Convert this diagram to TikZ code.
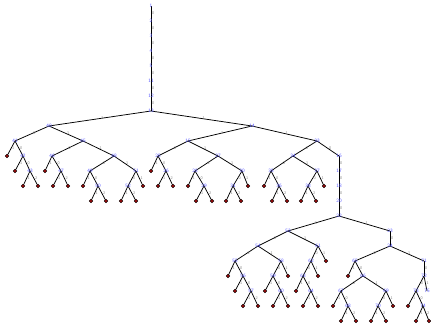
\documentclass[tikz,border=0pt]{standalone}
\usetikzlibrary{backgrounds}

\definecolor{labBlue}{RGB}{90,90,255}
\definecolor{leafRed}{RGB}{150,10,10}

\begin{document}
\begin{tikzpicture}[x=1pt, y=-1pt, >=latex,
    innerLab/.style={inner sep=0.3pt, text=labBlue, font=\sffamily\fontsize{5}{5}\selectfont},
    leafDot/.style={circle, draw=black, fill=leafRed, line width=0.4pt, inner sep=0pt, minimum size=3.8pt},
    edgeLine/.style={line width=0.75pt, black},
    weightLab/.style={midway, right, inner sep=0.8pt, text=gray, font=\sffamily\fontsize{4}{4}\selectfont}]
    \useasboundingbox (0,0) rectangle (431,324);

    % internal vertices
    \foreach \nm/\x/\y/\lab in {a1/151/6/1, a2/151/21/2, a3/151/36/3, a4/151/51/4, a5/151/66/5,
        a6/151/81/11, a7/151/96/12, a8/151/111/13,
        b1/49/126/40, b2/252/126/14,
        c1/15/141/41, c2/83/141/45, d1/23/156/42, e1/30/171/43, d2/52/156/46, e2/61/171/47,
        d3/114/156/48, e3/90/171/49, f1/98/186/50, e4/136/171/51, f2/128/186/52,
        c3/188/141/15, d4/158/156/25, e5/166/171/26, d5/218/156/27, e6/195/171/28, f3/204/186/29,
        e7/242/171/30, f4/233/186/31,
        c4/317/141/33, d6/293/156/34, e8/271/171/35, f5/279/186/36, e9/317/171/37, f6/308/186/38,
        g1/339/156/16, g2/339/171/17, g3/339/186/18, g4/339/201/20, g5/339/216/22,
        h1/288/231/53, i1/258/246/54, j1/235/261/55, k1/243/276/56, m1/251/291/57,
        j2/281/261/58, k2/273/276/59, m2/281/291/60,
        i2/318/246/61, j3/311/261/62, k3/303/276/63, m3/311/291/64,
        h2/390/231/23, n1/390/246/24, o1/355/261/65, p1/363/276/66, q1/341/291/67, r1/348/306/68,
        q2/386/291/69, r2/378/306/70,
        o2/424/261/71, p2/424/276/72, q3/416/291/73, r3/423/306/74, q4/427/291/75}
        \node (\nm) [innerLab] at (\x,\y) {\lab};

    % leaves
    \foreach \nm/\x/\y in {l1/7/156, l2/15/171, l3/23/186, l4/38/186, l5/45/171, l6/53/186, l7/68/186,
        l8/83/186, l9/91/201, l10/106/201, l11/143/186, l12/121/201, l13/136/201,
        l14/151/171, l15/158/186, l16/173/186, l17/188/186, l18/196/201, l19/212/201,
        l20/248/186, l21/226/201, l22/241/201,
        l23/264/186, l24/272/201, l25/287/201, l26/324/186, l27/301/201, l28/316/201,
        l29/228/276, l30/235/291, l31/243/306, l32/258/306,
        l33/288/276, l34/265/291, l35/273/306, l36/288/306,
        l37/326/261, l38/318/276, l39/296/291, l40/303/306, l41/318/306,
        l42/348/276, l43/333/306, l44/341/321, l45/356/321,
        l46/393/306, l47/371/321, l48/386/321,
        l49/408/306, l50/416/321, l51/429/321}
        \node (\nm) [leafDot] at (\x,\y) {};

    % edges with weights
    \begin{scope}[on background layer]
    \foreach \p/\c/\w in {a1/a2/0, a2/a3/0, a3/a4/0, a4/a5/0, a5/a6/0, a6/a7/0, a7/a8/0,
        a8/b1/3, a8/b2/1,
        b1/c1/2, b1/c2/1, c1/l1/1, c1/d1/0, d1/l2/1, d1/e1/0, e1/l3/1, e1/l4/2,
        c2/d2/2, c2/d3/1, d2/l5/1, d2/e2/0, e2/l6/1, e2/l7/2,
        d3/e3/2, d3/e4/1, e3/l8/1, e3/f1/0, f1/l9/1, f1/l10/2, e4/f2/0, e4/l11/1, f2/l12/1, f2/l13/2,
        b2/c3/2, b2/c4/1, c3/d4/2, c3/d5/1, d4/l14/1, d4/e5/0, e5/l15/1, e5/l16/2,
        d5/e6/2, d5/e7/1, e6/l17/1, e6/f3/0, f3/l18/1, f3/l19/2, e7/f4/0, e7/l20/1, f4/l21/1, f4/l22/2,
        c4/d6/2, c4/g1/0, d6/e8/2, d6/e9/1, e8/l23/1, e8/f5/0, f5/l24/1, f5/l25/2,
        e9/f6/0, e9/l26/1, f6/l27/1, f6/l28/2,
        g1/g2/0, g2/g3/0, g3/g4/0, g4/g5/0,
        g5/h1/3, g5/h2/1,
        h1/i1/2, h1/i2/1, i1/j1/2, i1/j2/1, j1/l29/1, j1/k1/0, k1/l30/1, k1/m1/0, m1/l31/1, m1/l32/2,
        j2/k2/0, j2/l33/1, k2/l34/1, k2/m2/0, m2/l35/1, m2/l36/2,
        i2/j3/0, i2/l37/1, j3/k3/0, j3/l38/1, k3/l39/1, k3/m3/0, m3/l40/1, m3/l41/2,
        h2/n1/0, n1/o1/2, n1/o2/1, o1/l42/1, o1/p1/0, p1/q1/2, p1/q2/1,
        q1/l43/1, q1/r1/0, r1/l44/1, r1/l45/2,
        q2/r2/0, q2/l46/1, r2/l47/1, r2/l48/2,
        o2/p2/0, p2/q3/0, p2/q4/1, q3/l49/1, q3/r3/0, r3/l50/1, r3/l51/2}
        \draw[edgeLine] (\p.center) -- (\c.center) node[weightLab] {\w};
    \end{scope}
\end{tikzpicture}
\end{document}
